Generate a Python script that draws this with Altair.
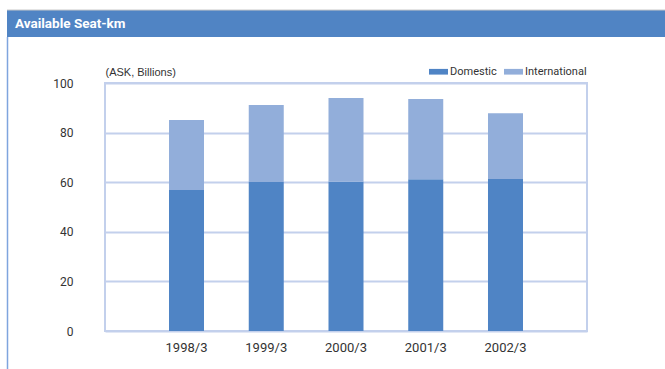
import altair as alt
import pandas as pd

# Fiscal years (ending March) and available seat-km, billions
years = ["1998/3", "1999/3", "2000/3", "2001/3", "2002/3"]
domestic = [56.9, 60.1, 60.2, 61.2, 61.3]
international = [28.2, 31.0, 33.8, 32.3, 26.5]
series = ["Domestic", "International"]
series_colors = ["#4F84C5", "#92AEDA"]
y_ticks = [0, 20, 40, 60, 80, 100]
header = ["Available Seat-km"]
unit_label = "(ASK, Billions)"

rows = []
for i, yr in enumerate(years):
    rows.append({"year": yr, "series": series[0], "ask": domestic[i], "stack": 0})
    rows.append({"year": yr, "series": series[1], "ask": international[i], "stack": 1})
df = pd.DataFrame(rows)

W, H = 482, 248
PAD = {"left": 105, "top": 83, "right": 78, "bottom": 38}
GRID = "#C3D0EC"
TEXT = "#333333"

bars = alt.Chart(df).mark_bar().encode(
    x=alt.X(
        "year:N",
        sort=years,
        scale=alt.Scale(paddingInner=0.561, paddingOuter=0.8025),
        axis=alt.Axis(
            title=None, labelAngle=0, ticks=False, domain=False, grid=False,
            labelPadding=10, labelFont="Roboto", labelFontSize=13, labelColor=TEXT,
        ),
    ),
    y=alt.Y(
        "ask:Q",
        stack="zero",
        scale=alt.Scale(domain=[0, 100], nice=False),
        axis=alt.Axis(
            values=y_ticks, ticks=False, domain=False, labelPadding=32,
            labelFont="Roboto", labelFontSize=12, labelColor=TEXT,
            gridColor=GRID, gridWidth=2,
            title=unit_label, titleAngle=0, titleAlign="left", titleBaseline="middle",
            titleX=0, titleY=-11, titleFont="Liberation Sans", titleFontSize=11,
            titleFontWeight="normal", titleColor=TEXT,
        ),
    ),
    color=alt.Color(
        "series:N",
        scale=alt.Scale(domain=series, range=series_colors),
        legend=alt.Legend(
            title=None, orient="none", legendX=324, legendY=-21, direction="horizontal",
            symbolType="M-1,-0.3H1V0.3H-1Z", symbolSize=361, symbolStrokeWidth=0,
            labelFont="Roboto", labelFontSize=11, labelColor=TEXT, labelOffset=2,
            columnPadding=7,
        ),
    ),
    order=alt.Order("stack:Q"),
)

deco_src = pd.DataFrame({"t": header})

band = alt.Chart(deco_src).mark_rect(color="#5084C4").encode(
    x=alt.value(-98), x2=alt.value(560), y=alt.value(-73), y2=alt.value(-46)
)
top_line = alt.Chart(deco_src).mark_rule(color="#C8C8C8", strokeWidth=1).encode(
    x=alt.value(-98), x2=alt.value(560), y=alt.value(-73)
)
left_line = alt.Chart(deco_src).mark_rule(color="#7FA5DE", strokeWidth=1.5).encode(
    x=alt.value(-97.5), y=alt.value(-46), y2=alt.value(290)
)
header_text = alt.Chart(deco_src).mark_text(
    align="left", baseline="middle", color="white", font="Roboto",
    fontSize=13.5, fontWeight="bold",
).encode(text="t:N", x=alt.value(-90), y=alt.value(-59))

chart = alt.layer(band, top_line, left_line, header_text, bars).properties(
    width=W, height=H, padding=PAD, autosize=alt.AutoSizeParams(type="none"),
    background="white",
).configure_view(stroke=GRID, strokeWidth=2)

chart.save("out.html", embed_options={"renderer": "svg", "actions": False})
